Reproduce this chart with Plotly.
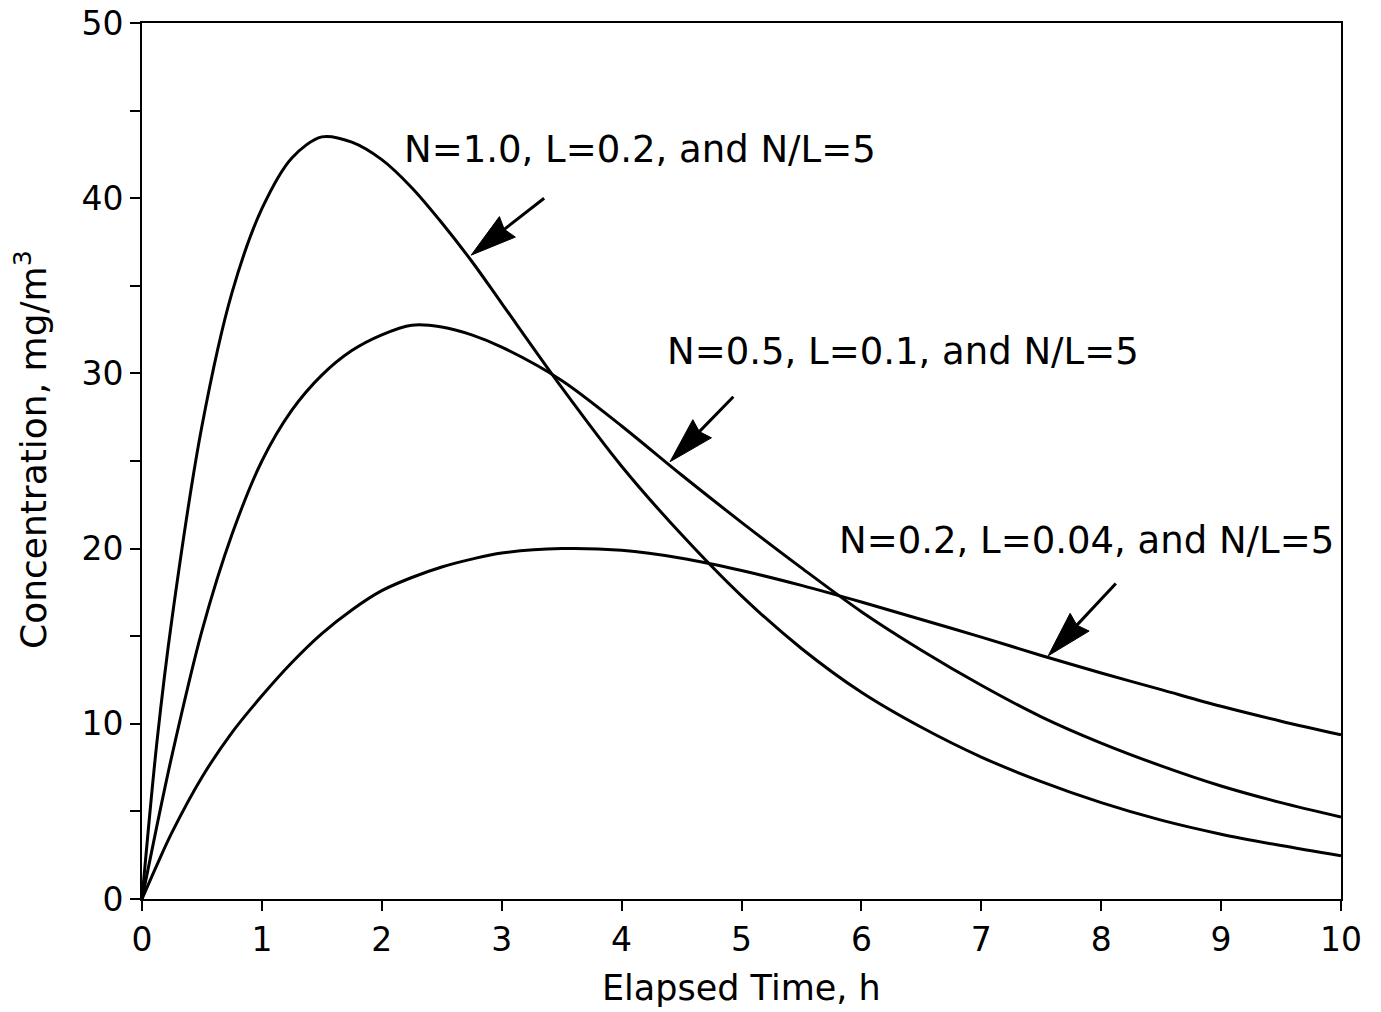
import numpy as np
import plotly.graph_objects as go

# ---------------- data ----------------
time_h = [0, 0.125, 0.25, 0.5, 0.75, 1.0, 1.25, 1.5, 1.75, 2.0, 2.25, 2.5, 2.75,
          3.0, 3.5, 4.0, 4.5, 5.0, 5.5, 6.0, 6.5, 7.0, 7.5, 8.0, 8.5, 9.0, 9.5, 10.0]

conc_n10 = [0, 9.0, 16.0, 27.0, 34.6, 39.4, 42.3, 43.5, 43.2, 42.2, 40.6, 38.6, 36.4,
            34.0, 29.2, 24.7, 20.8, 17.3, 14.3, 11.8, 9.8, 8.1, 6.7, 5.5, 4.5, 3.7, 3.05, 2.47]

conc_n05 = [0, 4.2, 8.2, 15.3, 20.8, 25.0, 27.9, 29.9, 31.3, 32.2, 32.75, 32.65, 32.2,
            31.5, 29.6, 27.0, 24.2, 21.5, 18.9, 16.4, 14.2, 12.2, 10.4, 8.9, 7.6, 6.45, 5.5, 4.68]

conc_n02 = [0, 1.95, 3.8, 6.95, 9.5, 11.6, 13.5, 15.15, 16.5, 17.6, 18.35, 18.95, 19.4,
            19.75, 20.0, 19.9, 19.45, 18.75, 17.9, 16.95, 15.95, 14.95, 13.9, 12.9, 11.95, 11.0, 10.15, 9.37]

labels = ["N=1.0, L=0.2, and N/L=5",
          "N=0.5, L=0.1, and N/L=5",
          "N=0.2, L=0.04, and N/L=5"]
label_x = [2.167, 4.362, 5.80]
label_y = [42.8, 31.24, 20.44]

arrow_tail_x = [3.354, 4.932, 8.122]
arrow_tail_y = [40.0, 28.67, 18.01]
arrow_tip_x = [2.745, 4.404, 7.558]
arrow_tip_y = [36.75, 24.96, 13.88]

x_ticks = list(range(0, 11))
y_ticks = [0, 10, 20, 30, 40, 50]

# ---------------- layout constants ----------------
W, H = 1381, 1012
ML, MR, MT, MB = 142, 40, 23, 113
XR = (0, 10)
YR = (0, 50)
plot_w = W - ML - MR
plot_h = H - MT - MB
sx = plot_w / (XR[1] - XR[0])   # px per x unit
sy = plot_h / (YR[1] - YR[0])   # px per y unit

FONT = "DejaVu Sans"

fig = go.Figure()
for ys in (conc_n10, conc_n05, conc_n02):
    fig.add_trace(go.Scatter(x=time_h, y=ys, mode="lines",
                             line=dict(color="black", width=3, shape="spline", smoothing=0.9),
                             showlegend=False, hoverinfo="skip"))

# arrows: shaft + long narrow filled head (computed in pixel space)
HEAD_LEN, HEAD_HALF, NOTCH = 46.0, 13.0, 4.0
for tx, ty, hx, hy in zip(arrow_tail_x, arrow_tail_y, arrow_tip_x, arrow_tip_y):
    dxp = (hx - tx) * sx
    dyp = (hy - ty) * sy
    L = np.hypot(dxp, dyp)
    ux, uy = dxp / L, dyp / L       # unit direction (data-up positive y)
    nx, ny = -uy, ux

    def P(a, b):
        return hx + a / sx, hy + b / sy

    p_tip = (hx, hy)
    p_c1 = P(-HEAD_LEN * ux + HEAD_HALF * nx, -HEAD_LEN * uy + HEAD_HALF * ny)
    p_n = P(-(HEAD_LEN - NOTCH) * ux, -(HEAD_LEN - NOTCH) * uy)
    p_c2 = P(-HEAD_LEN * ux - HEAD_HALF * nx, -HEAD_LEN * uy - HEAD_HALF * ny)
    fig.add_trace(go.Scatter(x=[tx, p_n[0]], y=[ty, p_n[1]], mode="lines",
                             line=dict(color="black", width=3),
                             showlegend=False, hoverinfo="skip"))
    fig.add_trace(go.Scatter(x=[p_tip[0], p_c1[0], p_n[0], p_c2[0], p_tip[0]],
                             y=[p_tip[1], p_c1[1], p_n[1], p_c2[1], p_tip[1]],
                             mode="lines", fill="toself", fillcolor="black",
                             line=dict(color="black", width=1),
                             showlegend=False, hoverinfo="skip"))

annotations = []
for txt, lx, ly in zip(labels, label_x, label_y):
    annotations.append(dict(x=lx, y=ly, xref="x", yref="y", text=txt, showarrow=False,
                            xanchor="left", yanchor="middle",
                            font=dict(family=FONT, size=37, color="black")))

annotations.append(dict(x=0.5, y=-(988 - (H - MB)) / plot_h, xref="paper", yref="paper",
                        text="Elapsed Time, h", showarrow=False,
                        xanchor="center", yanchor="middle",
                        font=dict(family=FONT, size=35, color="black")))
annotations.append(dict(x=(31 - ML) / plot_w, y=(H - MB - 450) / plot_h, xref="paper", yref="paper",
                        text="Concentration, mg/m<sup>3</sup>", showarrow=False, textangle=-90,
                        xanchor="center", yanchor="middle",
                        font=dict(family=FONT, size=36, color="black")))

axis_common = dict(showline=True, linecolor="black", linewidth=2, mirror=True,
                   showgrid=False, zeroline=False, ticks="outside", ticklen=10,
                   tickwidth=2, tickcolor="black", automargin=False,
                   tickfont=dict(family=FONT, size=33, color="black"))

fig.update_layout(
    width=W, height=H,
    margin=dict(l=ML, r=MR, t=MT, b=MB),
    paper_bgcolor="white", plot_bgcolor="white",
    xaxis=dict(range=list(XR), tickmode="array", tickvals=x_ticks, **axis_common),
    yaxis=dict(range=list(YR), tickmode="array", tickvals=y_ticks,
               minor=dict(dtick=5, ticks="outside", ticklen=10, tickwidth=2, tickcolor="black"),
               **axis_common),
    annotations=annotations,
    showlegend=False,
)

fig.write_html("out.html")
